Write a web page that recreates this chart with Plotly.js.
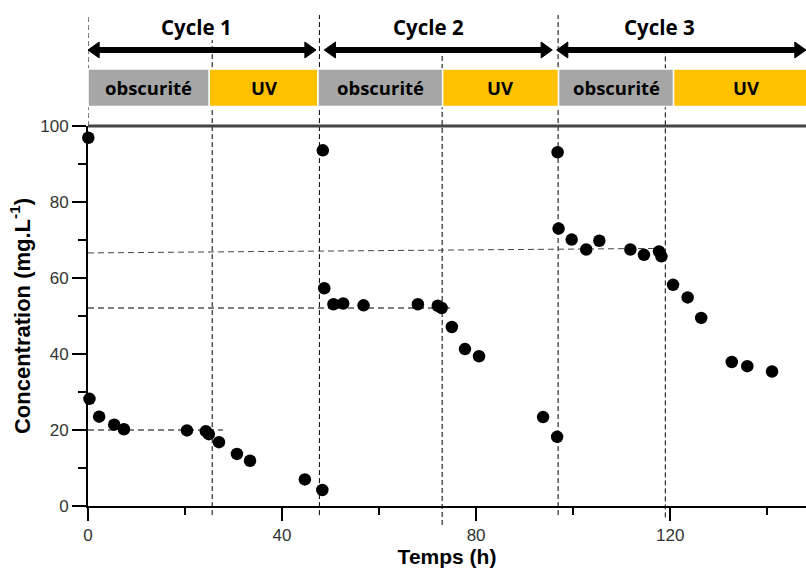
<!DOCTYPE html>
<html>
<head>
<meta charset="utf-8">
<script src="https://cdn.plot.ly/plotly-3.0.1.min.js"></script>
<style>html,body{margin:0;padding:0;background:#fff;}#chart{width:806px;height:568px;}</style>
</head>
<body>
<div id="chart"></div>
<script>
// ---- Data ----
const time1 = [0.06, 0.3, 2.3, 5.4, 7.4, 20.4, 24.3, 24.9, 27.0, 30.7, 33.4, 44.7, 48.3];
const conc1 = [96.9, 28.2, 23.5, 21.4, 20.2, 19.9, 19.7, 18.9, 16.8, 13.7, 11.9, 7.0, 4.2];
const time2 = [48.4, 48.7, 50.6, 52.6, 56.8, 68.0, 72.1, 72.9, 75.0, 77.7, 80.6, 93.8, 96.7];
const conc2 = [93.6, 57.3, 53.1, 53.3, 52.8, 53.1, 52.7, 52.1, 47.1, 41.3, 39.4, 23.4, 18.2];
const time3 = [96.8, 97.0, 99.7, 102.7, 105.4, 111.8, 114.6, 117.7, 118.2, 120.6, 123.6, 126.4, 132.7, 135.9, 141.0];
const conc3 = [93.1, 73.0, 70.1, 67.5, 69.8, 67.5, 66.1, 67.0, 65.7, 58.2, 54.9, 49.5, 37.9, 36.8, 35.4];

// Phases (dark / UV) along the time axis
const phaseLabels = ['obscurité', 'UV', 'obscurité', 'UV', 'obscurité', 'UV'];
const phaseStart = [0, 25.0, 47.4, 73.1, 97.0, 120.7];
const phaseEnd = [25.0, 47.4, 73.1, 97.0, 120.7, 150];
const phaseLabelX = [12.4, 36.3, 60.3, 85.0, 108.9, 135.8];

// Cycles
const cycleLabels = ['Cycle 1', 'Cycle 2', 'Cycle 3'];
const cycleLabelX = [22.4, 70.1, 117.8];
const cycleArrowStart = [0, 48.7, 96.6];
const cycleArrowEnd = [47.0, 95.7, 148];

// Reference (dashed) lines
const vLineX = [0, 25.6, 47.7, 73.0, 96.9, 119.0];
const vLineTop = [1.292, 1.226, 1.292, 1.19, 1.292, 1.21];
const vLineBottom = [1.0, -0.024, -0.024, -0.05, -0.024, -0.03];
const hLineY0 = [20.0, 52.1, 66.6];
const hLineY1 = [20.0, 52.1, 67.8];
const hLineXEnd = [27.8, 74.6, 118.8];

const xTickVals = [0, 40, 80, 120];
const yTickVals = [0, 20, 40, 60, 80, 100];

// ---- Build chart ----
const markerStyle = {color: '#000', size: 12.5, line: {width: 0}};
const traces = [
  {x: time1, y: conc1, mode: 'markers', type: 'scatter', marker: markerStyle, cliponaxis: false, showlegend: false},
  {x: time2, y: conc2, mode: 'markers', type: 'scatter', marker: markerStyle, cliponaxis: false, showlegend: false},
  {x: time3, y: conc3, mode: 'markers', type: 'scatter', marker: markerStyle, cliponaxis: false, showlegend: false}
];

const shapes = [];
const annotations = [];

// Phase boxes
phaseLabels.forEach((lab, i) => {
  shapes.push({type: 'rect', xref: 'x', yref: 'paper', x0: phaseStart[i], x1: phaseEnd[i], y0: 1.0513, y1: 1.15,
    fillcolor: lab === 'UV' ? '#ffc000' : '#a6a6a6', line: {color: '#ffffff', width: 1.5}, layer: 'above'});
  annotations.push({xref: 'x', yref: 'paper', x: phaseLabelX[i], y: 1.1, text: '<b>' + lab + '</b>', showarrow: false,
    xanchor: 'center', yanchor: 'middle', font: {family: 'Open Sans, Liberation Sans, sans-serif', size: 18.5, color: '#000'}});
});

// Dashed vertical lines
vLineX.forEach((x, i) => {
  shapes.push({type: 'line', xref: 'x', yref: 'paper', x0: x, x1: x, y0: vLineBottom[i], y1: vLineTop[i],
    line: {color: '#000', width: 1, dash: '5px,3px'}, layer: 'below'});
});

// Dashed horizontal lines
hLineY0.forEach((y, i) => {
  shapes.push({type: 'line', xref: 'x', yref: 'y', x0: 0, x1: hLineXEnd[i], y0: y, y1: hLineY1[i],
    line: {color: i === 2 ? '#444' : '#000', width: 1, dash: '6px,4px'}, layer: 'below'});
});

// Cycle arrows and labels
const headLen = 2.3, headHalf = 0.021, arrowY = 1.2;
cycleLabels.forEach((lab, i) => {
  const a = cycleArrowStart[i], b = cycleArrowEnd[i];
  shapes.push({type: 'line', xref: 'x', yref: 'paper', x0: a + headLen * 0.8, x1: b - headLen * 0.8, y0: arrowY, y1: arrowY,
    line: {color: '#000', width: 6}, layer: 'above'});
  shapes.push({type: 'path', xref: 'x', yref: 'paper', layer: 'above',
    path: `M ${a},${arrowY} L ${a + headLen},${arrowY + headHalf} L ${a + headLen},${arrowY - headHalf} Z`,
    fillcolor: '#000', line: {color: '#000', width: 1}});
  shapes.push({type: 'path', xref: 'x', yref: 'paper', layer: 'above',
    path: `M ${b},${arrowY} L ${b - headLen},${arrowY + headHalf} L ${b - headLen},${arrowY - headHalf} Z`,
    fillcolor: '#000', line: {color: '#000', width: 1}});
  annotations.push({xref: 'x', yref: 'paper', x: cycleLabelX[i], y: 1.2605, text: '<b>' + lab + '</b>', showarrow: false,
    xanchor: 'center', yanchor: 'middle', font: {family: 'Open Sans, Liberation Sans, sans-serif', size: 20.5, color: '#000'}});
});

// Top border line at y = 100
shapes.push({type: 'line', xref: 'x', yref: 'paper', x0: 0, x1: 148, y0: 1, y1: 1, line: {color: '#444', width: 3}, layer: 'above'});

const tickFont = {family: 'Liberation Sans, Arial, sans-serif', size: 17, color: '#333'};
const layout = {
  width: 806, height: 568,
  margin: {l: 88, r: 0, t: 126, b: 62, pad: 0},
  paper_bgcolor: '#fff', plot_bgcolor: '#fff',
  showlegend: false,
  xaxis: {
    range: [0, 148], tickvals: xTickVals, ticktext: xTickVals.map(String),
    ticks: 'outside', ticklen: 13, tickwidth: 2, tickcolor: '#000',
    minor: {dtick: 20, tick0: 0, ticks: 'outside', ticklen: 7, tickwidth: 2, tickcolor: '#000', showgrid: false},
    showline: true, linecolor: '#000', linewidth: 2, showgrid: false, zeroline: false,
    tickfont: tickFont, automargin: false,
    title: {text: '<b>Temps (h)</b>', font: {family: 'Liberation Sans, Arial, sans-serif', size: 21, color: '#000'}, standoff: 3}
  },
  yaxis: {
    range: [0, 100], tickvals: yTickVals, ticktext: yTickVals.map(String),
    ticks: 'outside', ticklen: 14, tickwidth: 2, tickcolor: '#000',
    minor: {dtick: 10, tick0: 0, ticks: 'outside', ticklen: 8, tickwidth: 2, tickcolor: '#000', showgrid: false},
    showline: true, linecolor: '#000', linewidth: 2, showgrid: false, zeroline: false,
    tickfont: tickFont, automargin: false,
    title: {text: '<b>Concentration (mg.L<sup>-1</sup>)</b>', font: {family: 'Liberation Sans, Arial, sans-serif', size: 22, color: '#000'}, standoff: 4}
  },
  shapes: shapes,
  annotations: annotations
};

Plotly.newPlot('chart', traces, layout, {displayModeBar: false, staticPlot: true});
</script>
</body>
</html>
